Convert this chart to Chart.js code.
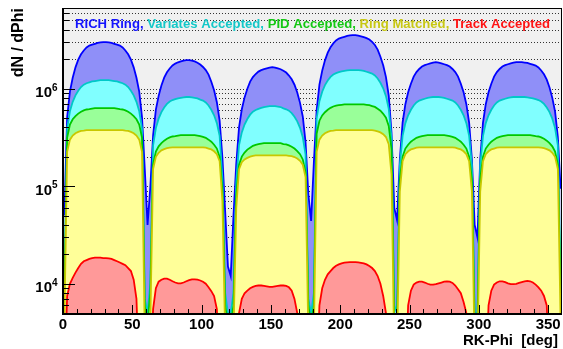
<!DOCTYPE html>
<html>
<head>
<meta charset="utf-8">
<script src="https://cdn.jsdelivr.net/npm/chart.js@4.4.1/dist/chart.umd.min.js"></script>
<style>
  html, body { margin: 0; padding: 0; background: #fff; }
</style>
</head>
<body>
<canvas id="myChart" width="563" height="349"></canvas>
<script>
// bin centres, 2 deg wide bins
const phi = Array.from({ length: 180 }, (_, i) => 2 * i + 1);

// counts per bin, in thousands
const richRing = [
  50, 510, 930, 1290, 1650, 1980, 2250, 2460, 2640, 2760, 2820, 2880, 2940, 2970, 3000, 3000, 2970, 2940, 2880, 2820, 2760, 2640, 2460, 2250, 1980, 1650, 1290, 930, 510, 150, 40,
  98, 333, 608, 843, 1078, 1294, 1470, 1607, 1725, 1803, 1860, 1900, 1940, 1960, 1960, 1940, 1900, 1842, 1764, 1666, 1548, 1392, 1176, 960, 725, 470, 196, 55, 15,
  12, 50, 170, 400, 614, 813, 996, 1179, 1311, 1411, 1494, 1545, 1580, 1610, 1640, 1660, 1640, 1610, 1580, 1527, 1461, 1361, 1245, 1096, 913, 714, 515, 282, 83, 44,
  177, 602, 1097, 1522, 1947, 2336, 2655, 2903, 3115, 3257, 3328, 3398, 3469, 3505, 3540, 3540, 3487, 3434, 3363, 3292, 3186, 3009, 2797, 2513, 2124, 1735, 1310, 850, 354, 60,
  45, 187, 449, 692, 916, 1122, 1328, 1477, 1590, 1683, 1739, 1777, 1814, 1842, 1870, 1842, 1814, 1777, 1739, 1683, 1590, 1477, 1328, 1122, 916, 692, 449, 187, 40,
  30, 187, 449, 692, 916, 1122, 1328, 1477, 1590, 1683, 1739, 1777, 1814, 1842, 1870, 1870, 1870, 1851, 1833, 1795, 1758, 1720, 1646, 1533, 1403, 1234, 1029, 804, 580, 318, 94
];
const variatesAccepted = [
  7, 390, 586, 732, 854, 952, 1037, 1098, 1135, 1159, 1183, 1196, 1208, 1220, 1220, 1220, 1220, 1208, 1196, 1183, 1159, 1135, 1098, 1037, 952, 854, 732, 586, 390, 7, 5,
  10, 262, 394, 492, 574, 640, 697, 738, 763, 779, 795, 804, 812, 820, 820, 812, 804, 795, 771, 754, 722, 672, 607, 533, 443, 328, 120, 8, 5,
  5, 8, 110, 264, 356, 429, 488, 541, 581, 604, 620, 634, 647, 653, 660, 660, 660, 653, 647, 627, 614, 594, 561, 515, 462, 396, 317, 211, 7, 5,
  8, 496, 744, 930, 1085, 1209, 1318, 1395, 1442, 1473, 1504, 1519, 1535, 1550, 1550, 1550, 1550, 1535, 1519, 1488, 1457, 1426, 1364, 1271, 1147, 1008, 837, 620, 310, 6,
  5, 164, 328, 443, 533, 607, 672, 722, 754, 771, 787, 804, 812, 820, 820, 820, 812, 804, 787, 771, 754, 722, 672, 607, 533, 443, 328, 164, 5,
  5, 164, 328, 443, 533, 607, 672, 722, 754, 771, 787, 804, 812, 820, 820, 820, 820, 820, 812, 804, 795, 779, 763, 738, 697, 640, 574, 492, 394, 262, 10
];
const pidAccepted = [
  6, 315, 428, 485, 523, 554, 580, 599, 611, 617, 624, 630, 630, 630, 630, 630, 630, 630, 630, 624, 617, 611, 599, 580, 554, 523, 485, 428, 315, 6, 4,
  8, 167, 226, 256, 276, 293, 306, 316, 323, 326, 330, 333, 333, 333, 333, 333, 333, 330, 326, 320, 313, 300, 286, 266, 243, 200, 90, 6, 4,
  4, 6, 80, 166, 201, 221, 237, 248, 259, 265, 270, 273, 276, 276, 276, 276, 276, 276, 276, 270, 268, 262, 254, 243, 229, 213, 188, 138, 6, 4,
  6, 345, 469, 531, 573, 607, 635, 656, 669, 676, 683, 690, 690, 690, 690, 690, 690, 690, 690, 683, 676, 662, 649, 621, 593, 552, 504, 414, 241, 4,
  4, 117, 200, 243, 266, 286, 300, 313, 320, 326, 330, 333, 333, 333, 333, 333, 333, 333, 330, 326, 320, 313, 300, 286, 266, 243, 200, 117, 4,
  4, 117, 200, 243, 266, 286, 300, 313, 320, 326, 330, 333, 333, 333, 333, 333, 333, 333, 333, 333, 330, 326, 323, 316, 306, 293, 276, 256, 226, 167, 8
];
const ringMatched = [
  4, 225, 300, 330, 349, 360, 368, 371, 375, 375, 375, 375, 375, 375, 375, 375, 375, 375, 375, 375, 375, 375, 371, 368, 360, 349, 330, 300, 225, 3, 2,
  4, 150, 200, 220, 233, 240, 245, 248, 250, 250, 250, 250, 250, 250, 250, 250, 250, 250, 250, 250, 248, 243, 238, 228, 213, 180, 70, 3, 2,
  2, 3, 60, 149, 176, 188, 195, 201, 205, 207, 207, 207, 207, 207, 207, 207, 207, 207, 207, 207, 207, 205, 203, 199, 192, 182, 166, 124, 3, 2,
  3, 225, 300, 330, 349, 360, 368, 371, 375, 375, 375, 375, 375, 375, 375, 375, 375, 375, 375, 375, 375, 375, 371, 364, 356, 341, 319, 270, 131, 2,
  2, 88, 180, 213, 228, 238, 243, 248, 250, 250, 250, 250, 250, 250, 250, 250, 250, 250, 250, 250, 250, 248, 243, 238, 228, 213, 180, 88, 2,
  2, 88, 180, 213, 228, 238, 243, 248, 250, 250, 250, 250, 250, 250, 250, 250, 250, 250, 250, 250, 250, 250, 250, 248, 245, 240, 233, 220, 200, 150, 4
];
const trackAccepted = [
  1, 7.5, 10, 11.5, 13, 14.5, 16, 17, 17.5, 18, 18.3, 18.5, 18.5, 18.5, 18.3, 18.3, 18.2, 18, 17.5, 17, 16.5, 16, 15.5, 14.5, 13.5, 11, 7, 1, 1, 1, 1,
  1, 5.5, 9, 10.5, 11, 11.3, 11.3, 11, 10.6, 10.3, 10.1, 10.1, 10.3, 10.6, 10.9, 11.1, 11.1, 11, 10.8, 10.5, 10, 9.2, 8.4, 7.5, 5.5, 1, 1, 1, 1,
  1, 1, 1, 5, 7, 8, 8.5, 9, 9.3, 9.5, 9.6, 9.6, 9.5, 9.4, 9.3, 9.3, 9.4, 9.5, 9.6, 9.6, 9.5, 9.2, 8.5, 7, 5, 1, 1, 1, 1, 1,
  1, 1, 6, 9, 11, 12.5, 13.5, 14.5, 15.3, 15.8, 16.2, 16.5, 16.6, 16.7, 16.7, 16.7, 16.6, 16.4, 16.2, 15.8, 15.2, 14.5, 13.5, 12, 10, 7.5, 5, 1, 1, 1,
  1, 1, 1, 1, 6, 8.5, 9.8, 10.3, 10.5, 10.5, 10.3, 10, 9.8, 9.8, 9.9, 10.1, 10.3, 10.5, 10.6, 10.5, 10.2, 9.6, 8.8, 8, 6.5, 5, 1, 1, 1,
  1, 1, 1, 1, 6, 8.5, 9.8, 10.3, 10.6, 10.6, 10.4, 10.1, 9.9, 9.9, 10, 10.2, 10.4, 10.6, 10.7, 10.6, 10.3, 9.8, 9.2, 8.5, 7.5, 6, 1, 1, 1, 1, 1
];

// axis ticks
const xMajor = [0, 50, 100, 150, 200, 250, 300, 350];
const xMinor = [10, 20, 30, 40, 60, 70, 80, 90, 110, 120, 130, 140, 160, 170, 180, 190, 210, 220, 230, 240, 260, 270, 280, 290, 310, 320, 330, 340];
const yMajor = [1e4, 1e5, 1e6];
const yExp = ['4', '5', '6'];
const yMinor = [6e3, 7e3, 8e3, 9e3, 2e4, 3e4, 4e4, 5e4, 6e4, 7e4, 8e4, 9e4, 2e5, 3e5, 4e5, 5e5, 6e5, 7e5, 8e5, 9e5, 2e6, 3e6, 4e6, 5e6, 6e6];

const legendParts = ['RICH Ring, ', 'Variates Accepted, ', 'PID Accepted, ', 'Ring Matched, ', 'Track Accepted'];
const legendColors = ['#1414ff', '#14c8c8', '#14c814', '#c8c814', '#ff1414'];

function series(vals) {
  return phi.map((x, i) => ({ x: x, y: vals[i] * 1000 }));
}

function histo(label, vals, line, fillColor, order) {
  return {
    label: label,
    data: series(vals),
    borderColor: line,
    backgroundColor: fillColor,
    borderWidth: 1.8,
    tension: 0,
    fill: 'start',
    pointRadius: 0,
    order: order
  };
}

const font = 'bold 15px "Liberation Sans", Arial, sans-serif';

const rootFrame = {
  id: 'rootFrame',
  beforeDatasetsDraw(chart) {
    const ctx = chart.ctx;
    const a = chart.chartArea;
    const y = chart.scales.y;
    ctx.save();
    ctx.fillStyle = '#f0f0f0';
    ctx.fillRect(a.left, a.top, a.right - a.left, a.bottom - a.top);
    ctx.strokeStyle = '#333';
    ctx.lineWidth = 1;
    ctx.setLineDash([1, 2]);
    for (const v of yMajor.concat(yMinor)) {
      const py = Math.round(y.getPixelForValue(v)) + 0.5;
      ctx.beginPath();
      ctx.moveTo(a.left, py);
      ctx.lineTo(a.right, py);
      ctx.stroke();
    }
    ctx.restore();
  },
  afterDatasetsDraw(chart) {
    const ctx = chart.ctx;
    const a = chart.chartArea;
    const x = chart.scales.x;
    const y = chart.scales.y;
    ctx.save();
    ctx.strokeStyle = '#000';
    ctx.lineWidth = 1;
    // y ticks
    yMajor.forEach(v => {
      const py = Math.round(y.getPixelForValue(v)) + 0.5;
      ctx.beginPath(); ctx.moveTo(a.left, py); ctx.lineTo(a.left + 12, py); ctx.stroke();
    });
    yMinor.forEach(v => {
      const py = Math.round(y.getPixelForValue(v)) + 0.5;
      ctx.beginPath(); ctx.moveTo(a.left, py); ctx.lineTo(a.left + 6, py); ctx.stroke();
    });
    // x ticks
    xMajor.forEach(v => {
      const px = Math.round(x.getPixelForValue(v)) + 0.5;
      ctx.beginPath(); ctx.moveTo(px, a.bottom); ctx.lineTo(px, a.bottom - 9); ctx.stroke();
    });
    xMinor.forEach(v => {
      const px = Math.round(x.getPixelForValue(v)) + 0.5;
      ctx.beginPath(); ctx.moveTo(px, a.bottom); ctx.lineTo(px, a.bottom - 5); ctx.stroke();
    });
    // frame
    ctx.lineWidth = 1;
    ctx.strokeRect(a.left + 0.5, a.top + 0.5, a.right - a.left - 1, a.bottom - a.top - 1);
    ctx.lineWidth = 2;
    ctx.beginPath();
    ctx.moveTo(a.left, a.top);
    ctx.lineTo(a.left, a.bottom);
    ctx.lineTo(a.right, a.bottom);
    ctx.stroke();

    // tick labels
    ctx.fillStyle = '#000';
    ctx.font = font;
    ctx.textAlign = 'center';
    ctx.textBaseline = 'alphabetic';
    xMajor.forEach(v => {
      ctx.fillText(String(v), x.getPixelForValue(v), 329);
    });
    yMajor.forEach((v, i) => {
      const py = y.getPixelForValue(v);
      ctx.font = font;
      ctx.textAlign = 'right';
      ctx.fillText('10', 52, py + 8.5);
      ctx.font = 'bold 10px "Liberation Sans", Arial, sans-serif';
      ctx.textAlign = 'left';
      ctx.fillText(yExp[i], 52, py + 2);
    });

    // axis titles
    ctx.font = font;
    ctx.textAlign = 'right';
    ctx.fillText('RK-Phi  [deg]', 558, 345);
    ctx.save();
    ctx.translate(23, a.top);
    ctx.rotate(-Math.PI / 2);
    ctx.font = 'bold 16px "Liberation Sans", Arial, sans-serif';
    ctx.textAlign = 'right';
    ctx.fillText('dN / dPhi', 0, 0);
    ctx.restore();

    // coloured legend line
    ctx.font = 'bold 13px "Liberation Sans", Arial, sans-serif';
    ctx.textAlign = 'left';
    const full = legendParts.join('');
    const sx = 475 / ctx.measureText(full).width;
    ctx.save();
    ctx.translate(75, 28);
    ctx.scale(sx, 1);
    let cx = 0;
    legendParts.forEach((t, i) => {
      ctx.fillStyle = legendColors[i];
      ctx.fillText(t, cx, 0);
      cx += ctx.measureText(t).width;
    });
    ctx.restore();
    ctx.restore();
  }
};

const ctx = document.getElementById('myChart');
new Chart(ctx, {
  type: 'line',
  data: {
    datasets: [
      histo('RICH Ring', richRing, '#0000ff', '#8f8ff8', 5),
      histo('Variates Accepted', variatesAccepted, '#00c8c8', '#80ffff', 4),
      histo('PID Accepted', pidAccepted, '#00c800', '#99ff99', 3),
      histo('Ring Matched', ringMatched, '#c8c800', '#ffff99', 2),
      histo('Track Accepted', trackAccepted, '#ff0000', '#ff9999', 1)
    ]
  },
  options: {
    responsive: false,
    animation: false,
    devicePixelRatio: 1,
    layout: { padding: { left: 63, top: 8, right: 1, bottom: 35 } },
    plugins: { legend: { display: false }, tooltip: { enabled: false } },
    scales: {
      x: { type: 'linear', min: 0, max: 360, display: false },
      y: { type: 'logarithmic', min: 4900, max: 6.7e6, display: false }
    }
  },
  plugins: [rootFrame]
});
</script>
</body>
</html>
